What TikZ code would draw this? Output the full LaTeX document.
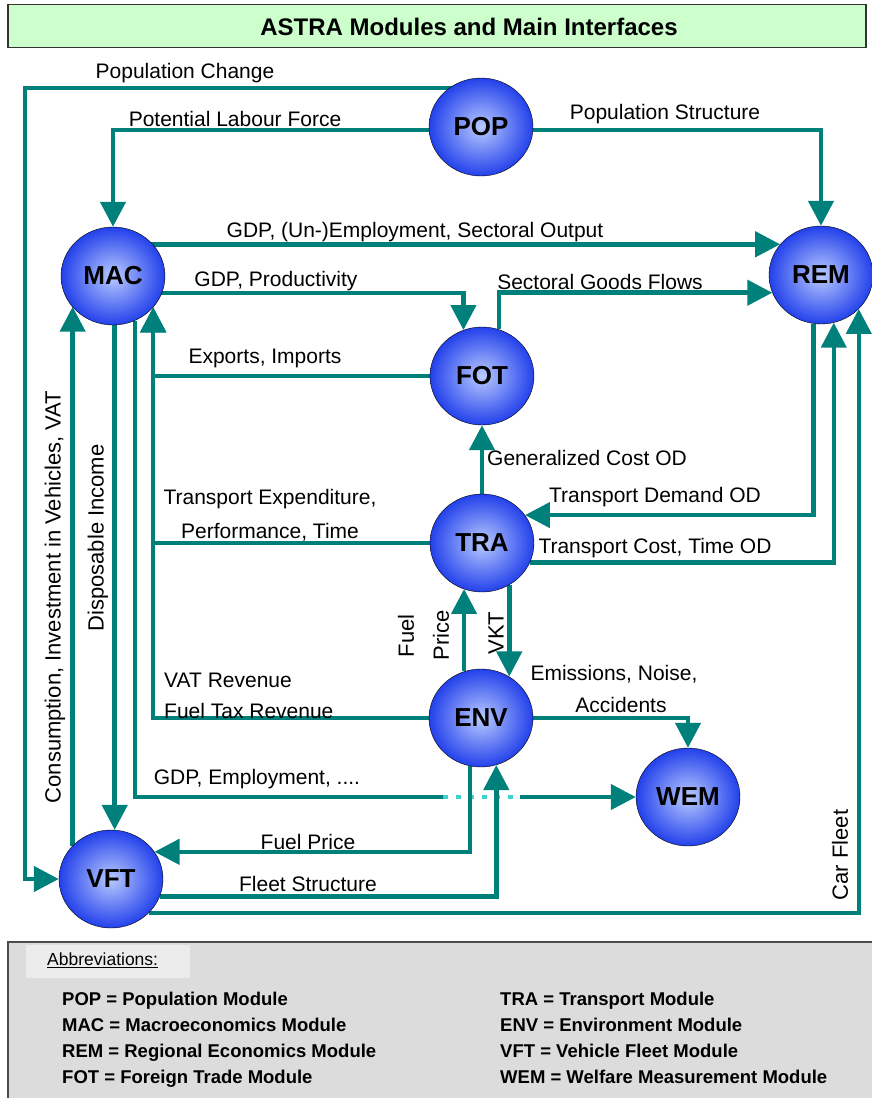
\documentclass[tikz,border=0pt]{standalone}
\usepackage{fontspec}
\setmainfont{Liberation Sans}
\usetikzlibrary{arrows.meta,shapes.geometric,backgrounds}

\definecolor{flowteal}{RGB}{0,128,122}
\definecolor{dotcyan}{RGB}{60,210,210}
\definecolor{titlegreen}{RGB}{204,255,204}
\definecolor{abbrgray}{RGB}{220,220,220}
\definecolor{abbrlight}{RGB}{236,236,236}
\definecolor{modinner}{RGB}{185,202,255}
\definecolor{modouter}{RGB}{35,65,235}

\tikzset{
  module/.style={ellipse, draw=black, thin, minimum width=104pt, minimum height=98pt,
    inner sep=0pt, inner color=modinner, outer color=modouter,
    font=\fontsize{26}{30}\selectfont\bfseries},
  flow/.style={draw=flowteal, line width=4.5pt, -{Triangle[length=25pt,width=25pt]}},
  plainflow/.style={draw=flowteal, line width=4.5pt},
  dotflow/.style={draw=dotcyan, line width=4pt, dash pattern=on 5pt off 8pt},
  lbl/.style={font=\fontsize{21}{34}\selectfont, inner sep=0pt},
  rlbl/.style={font=\fontsize{22}{26}\selectfont, inner sep=0pt, rotate=90},
  abbr/.style={font=\fontsize{18.5}{22}\selectfont\bfseries, anchor=base west, inner sep=0pt},
}

\begin{document}
\begin{tikzpicture}[x=1pt, y=-1pt]
\useasboundingbox (0,0) rectangle (871,1098);

% title
\node[draw=black!80, line width=1.5pt, fill=titlegreen, minimum width=858pt, minimum height=43pt] (titlebox) at (437,26) {};
\node[font=\fontsize{24}{28}\selectfont\bfseries] (title) at (469,27) {ASTRA Modules and Main Interfaces};

% modules
\node[module] (pop) at (481,127) {POP};
\node[module] (mac) at (113,276) {MAC};
\node[module] (rem) at (821,275) {REM};
\node[module] (fot) at (482,376) {FOT};
\node[module] (tra) at (482,543) {TRA};
\node[module] (env) at (481,718) {ENV};
\node[module] (wem) at (688,797) {WEM};
\node[module] (vft) at (111,879) {VFT};

\coordinate (gdpA) at (443,797);
\coordinate (gdpB) at (520,797);

\begin{scope}[on background layer]
  % from POP
  \draw[flow] (pop.center |- 0,88) -- (25,88) |- (vft.west);
  \draw[flow] (pop.center |- 0,130) -| (mac.north);
  \draw[flow] (pop.center |- 0,130) -| (rem.north);
  % from MAC and FOT
  \draw[flow] (mac.center |- rem.143) -- (rem.143);
  \draw[flow] (mac.center |- 0,293) -| (fot.112);
  \draw[flow] (fot.70) |- (rem.200);
  \draw[flow] (fot.center) -| (mac.-38);
  \draw[flow] (tra.center) -| (mac.-38);
  \draw[flow] (env.center) -| (mac.-38);
  % TRA
  \draw[flow] (tra.north) -- (fot.south);
  \draw[flow] (rem.-99) |- (tra.33);
  \draw[flow] (tra.-22) -| (rem.-75);
  \draw[flow] (env.110) -- (env.110 |- tra.248);
  \draw[flow] (tra.-57) -- (tra.-57 |- env.56);
  % ENV and WEM
  \draw[flow] (env.east) -| (wem.north);
  \draw[plainflow] (mac.-64) |- (gdpA);
  \draw[dotflow] (gdpA) -- (gdpB);
  \draw[flow] (gdpB) -- (wem.west);
  % VFT
  \draw[flow] (env.-103) |- (vft.32);
  \draw[flow] (vft.-20) -| (env.-72);
  \draw[flow] (vft.-42) -| (rem.-42);
  \draw[flow] (vft.139) -- (vft.139 |- mac.217);
  \draw[flow] (mac.-88) -- (mac.-88 |- vft.86);
\end{scope}

% labels
\node[lbl] (lpopchg) at (185,73) {Population Change};
\node[lbl] (llabour) at (235,119) {Potential Labour Force};
\node[lbl] (lpopstr) at (665,114) {Population Structure};
\node[lbl] (lgdpemp) at (415,232) {GDP, (Un-)Employment, Sectoral Output};
\node[lbl] (lgdpprod) at (276,281) {GDP, Productivity};
\node[lbl] (lgoods) at (600,282) {Sectoral Goods Flows};
\node[lbl] (lexpimp) at (265,358) {Exports, Imports};
\node[lbl] (lgencost) at (587,458) {Generalized Cost OD};
\node[lbl] (ldemand) at (655,497) {Transport Demand OD};
\node[lbl, align=center] (ltraexp) at (270,515) {Transport Expenditure,\\Performance, Time};
\node[lbl] (ltracost) at (655,548) {Transport Cost, Time OD};
\node[rlbl] (lfuel) at (406,636) {Fuel};
\node[rlbl] (lprice) at (441,635) {Price};
\node[rlbl] (lvkt) at (496,633) {VKT};
\node[lbl, anchor=west] (lvat) at (164,680) {VAT Revenue};
\node[lbl, anchor=west] (lfueltax) at (164,711) {Fuel Tax Revenue};
\node[lbl] (lemis) at (614,674) {Emissions, Noise,};
\node[lbl] (lacc) at (621,705) {Accidents};
\node[lbl] (lgdpemp2) at (257,779) {GDP, Employment, ....};
\node[lbl] (lfuelprice) at (308,842) {Fuel Price};
\node[lbl] (lfleet) at (308,884) {Fleet Structure};
\node[rlbl] (lcarfleet) at (840,855) {Car Fleet};
\node[rlbl] (lconsum) at (55,597) {Consumption, Investment in Vehicles, VAT};
\node[rlbl] (ldispinc) at (98,538) {Disposable Income};

% abbreviations
\draw[fill=abbrgray, draw=black!70, line width=1.5pt] (8,942) rectangle (890,1110);
\node[fill=abbrlight, minimum width=164pt, minimum height=33pt, inner sep=0pt] (abbrhead) at (108,961) {};
\node[font=\fontsize{17.5}{20}\selectfont, anchor=west, inner sep=0pt] (abbrtitle) at (47,960) {\underline{Abbreviations:}};
\foreach \k/\t [count=\i] in {POP/Population Module, MAC/Macroeconomics Module,
    REM/Regional Economics Module, FOT/Foreign Trade Module}
  \node[abbr] (abbl\i) at (62,979+26*\i) {\k\ = \t};
\foreach \k/\t [count=\i] in {TRA/Transport Module, ENV/Environment Module,
    VFT/Vehicle Fleet Module, WEM/Welfare Measurement Module}
  \node[abbr] (abbr\i) at (500,979+26*\i) {\k\ = \t};
\end{tikzpicture}
\end{document}
